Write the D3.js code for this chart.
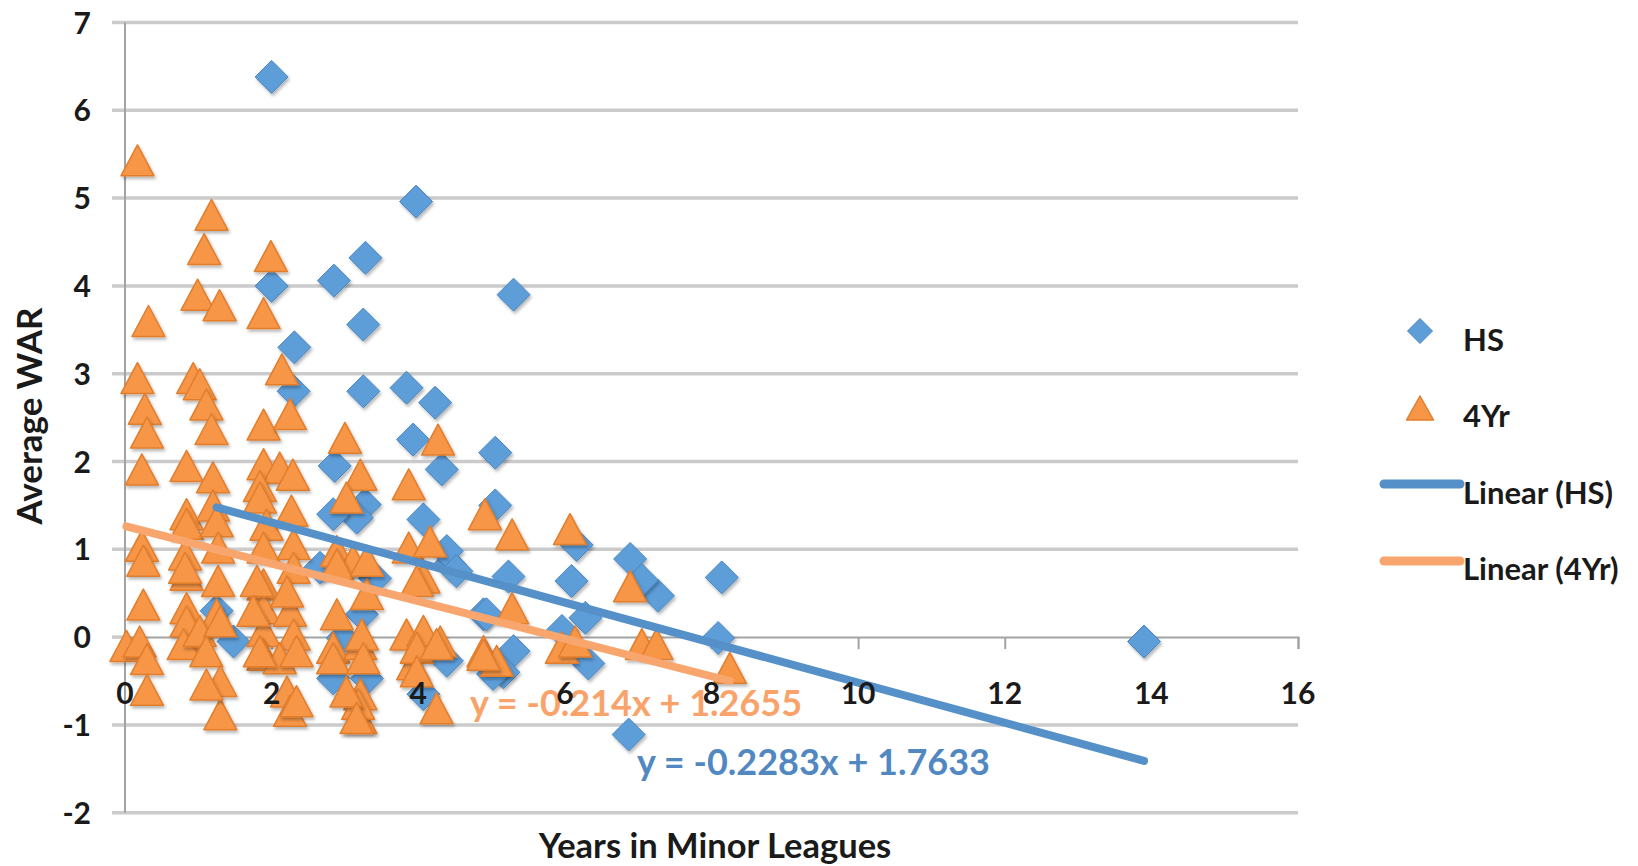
<!DOCTYPE html>
<html>
<head>
<meta charset="utf-8">
<script src="https://cdn.jsdelivr.net/npm/d3@7"></script>
<style>
  body { margin: 0; background: #ffffff; }
  svg { display: block; font-family: Lato, "Open Sans", sans-serif; }
</style>
</head>
<body>
<svg id="chart" width="1638" height="866"></svg>
<script>
// ---------------- DATA ----------------
const hsX = [1.25, 1.48, 2.0, 2.0, 2.85, 3.28, 3.97, 5.30, 3.25, 2.31,
             2.30, 3.25, 3.84, 4.23, 3.93, 4.32, 5.05, 2.86, 3.27, 3.16,
             2.84, 4.07, 5.05, 4.43, 4.39, 5.23, 6.16, 6.89, 6.09, 8.14,
             7.27, 7.05, 6.28, 5.96, 8.09, 6.32, 5.30, 5.16, 4.89, 6.87,
             13.9, 2.66, 3.41, 4.52, 3.23, 2.97, 2.84, 3.30, 4.07, 4.39,
             4.93, 5.02];
const hsY = [0.30, -0.05, 6.38, 4.00, 4.06, 4.32, 4.96, 3.90, 3.56, 3.30,
             2.80, 2.80, 2.84, 2.67, 2.25, 1.91, 2.10, 1.95, 1.51, 1.36,
             1.40, 1.34, 1.50, 0.83, 0.98, 0.69, 1.05, 0.89, 0.64, 0.68,
             0.47, 0.65, 0.22, 0.07, -0.01, -0.30, -0.16, -0.40, 0.26, -1.11,
             -0.05, 0.79, 0.67, 0.75, 0.26, -0.01, -0.47, -0.47, -0.65, -0.27,
             0.26, -0.42];

const yrX = [0.17, 0.32, 0.17, 0.27, 0.30, 0.23, 0.23, 0.25, 0.25, 0.02, 0.20, 0.30, 0.30,
             1.18, 1.08, 0.99, 1.29, 0.93, 1.02, 1.11, 1.18, 0.84, 1.20, 0.84, 0.84, 1.20, 1.25,
             0.82, 0.84, 1.27, 1.27, 0.84, 1.25, 0.93, 0.84, 0.80, 1.02, 1.30, 1.11, 1.30, 1.30,
             1.11, 0.82,
             1.99, 1.89, 2.14, 1.89, 2.25, 1.89, 2.11, 2.29, 1.84, 1.84, 1.93, 2.27, 1.89, 1.89,
             2.30, 2.30, 1.89, 2.25, 1.89, 2.30, 1.80, 1.75, 2.21, 1.89, 2.11, 2.21, 2.25, 2.34,
             2.34, 1.84,
             3.00, 3.21, 3.02, 2.89, 3.11, 3.30, 2.89, 2.84, 3.21, 2.84, 3.21, 3.21, 3.18, 3.23,
             3.25, 3.02, 2.89, 3.30, 3.16,
             3.87, 4.27, 3.87, 4.16, 4.07, 3.84, 4.07, 4.30, 3.93, 4.25, 3.98, 3.98, 3.98, 4.25,
             4.91, 5.28, 5.28, 4.89, 5.07, 4.89,
             6.07, 5.96, 6.14,
             6.89, 7.05, 7.25,
             8.25];
const yrY = [5.43, 3.60, 2.95, 2.60, 2.33, 1.91, 1.04, 0.87, 0.37, -0.10, -0.05, -0.25, -0.60,
             4.81, 4.42, 3.90, 3.78, 2.95, 2.88, 2.65, 2.37, 1.95, 1.82, 1.40, 1.29, 1.50, 1.32,
             0.94, 0.71, 1.02, 0.64, 0.33, 0.26, 0.03, 0.18, -0.08, 0.07, 0.18, -0.16, -0.50, -0.88,
             -0.54, 0.79,
             4.34, 3.69, 3.05, 2.42, 2.54, 1.97, 1.93, 1.85, 1.72, 1.59, 1.28, 1.44, 1.02, 0.60,
             1.06, 0.79, 0.33, 0.30, 0.07, 0.03, 0.64, 0.30, 0.52, -0.20, -0.24, -0.62, -0.84, -0.16,
             -0.73, -0.16,
             2.27, 1.85, 1.59, 0.98, 0.87, 0.49, 0.26, -0.12, -0.08, -0.24, -0.65, -0.92, -0.76, 0.03,
             -0.24, -0.62, 0.83, 0.87, -0.92,
             1.74, 2.25, 1.02, 1.09, 0.68, 0.03, 0.07, -0.05, -0.31, -0.81, -0.12, 0.64, -0.39, -0.08,
             1.40, 1.17, 0.33, -0.16, -0.27, -0.20,
             1.23, -0.12, -0.05,
             0.58, -0.08, -0.08,
             -0.35];

const trendSlopes = [-0.2283, -0.214];
const trendIntercepts = [1.7633, 1.2655];
const equationLabels = ["y = -0.2283x + 1.7633", "y = -0.214x + 1.2655"];
const legendLabels = ["HS", "4Yr", "Linear (HS)", "Linear (4Yr)"];
const xTicks = [0, 2, 4, 6, 8, 10, 12, 14, 16];
const yTicks = [-2, -1, 0, 1, 2, 3, 4, 5, 6, 7];
const xTitle = "Years in Minor Leagues";
const yTitle = "Average WAR";

// ---------------- STYLE ----------------
const C = {
  blue: "#5d9dd8", blueStroke: "#4a86c0",
  orange: "#f79646", orangeStroke: "#e27d2c",
  blueTrend: "#5590c8", orangeTrend: "#f9a66e",
  blueText: "#5188c2", orangeText: "#f9a36b",
  grid: "#cbcbcb", axis: "#a3a3a3", text: "#1a1a1a"
};

const svg = d3.select("#chart");
const x = d3.scaleLinear().domain([0, 16]).range([125, 1298]);
const y = d3.scaleLinear().domain([-2, 7]).range([812.7, 22.5]);

const defs = svg.append("defs");
const f = defs.append("filter").attr("id", "sh")
  .attr("x", "-40%").attr("y", "-40%").attr("width", "180%").attr("height", "180%");
f.append("feDropShadow").attr("dx", 1.5).attr("dy", 2.5).attr("stdDeviation", 1.8)
  .attr("flood-color", "#000").attr("flood-opacity", 0.28);

// gridlines
svg.append("g").selectAll("line")
  .data(yTicks.filter(t => t !== 0))
  .join("line")
  .attr("x1", 112).attr("x2", x(16))
  .attr("y1", d => y(d)).attr("y2", d => y(d))
  .attr("stroke", C.grid).attr("stroke-width", 3.5);

// y axis line
svg.append("line")
  .attr("x1", x(0)).attr("x2", x(0))
  .attr("y1", y(7)).attr("y2", y(-2))
  .attr("stroke", C.axis).attr("stroke-width", 2);
// zero stub left of axis
svg.append("line").attr("x1", 112).attr("x2", x(0))
  .attr("y1", y(0)).attr("y2", y(0))
  .attr("stroke", C.grid).attr("stroke-width", 3.5);

// x axis at y=0
const xAxisG = svg.append("g").attr("transform", `translate(0,${y(0)})`)
  .call(d3.axisBottom(x).tickValues(xTicks).tickSize(12).tickFormat(""));
xAxisG.select(".domain").attr("stroke", C.axis).attr("stroke-width", 2);
xAxisG.selectAll(".tick line").attr("stroke", C.axis).attr("stroke-width", 2);

// markers
const diamond = s => `M0,${-s}L${s},0L0,${s}L${-s},0Z`;
const tri = (w, h) => `M0,${-h / 2}L${w / 2},${h / 2}L${-w / 2},${h / 2}Z`;

svg.append("g").selectAll("path")
  .data(hsX.map((v, i) => [v, hsY[i]]))
  .join("path")
  .attr("d", diamond(16.5))
  .attr("transform", d => `translate(${x(d[0])},${y(d[1])})`)
  .attr("fill", C.blue).attr("stroke", C.blueStroke).attr("stroke-width", 1)
  .attr("filter", "url(#sh)");

svg.append("g").selectAll("path")
  .data(yrX.map((v, i) => [v, yrY[i]]))
  .join("path")
  .attr("d", tri(33, 31))
  .attr("transform", d => `translate(${x(d[0])},${y(d[1])})`)
  .attr("fill", C.orange).attr("stroke", C.orangeStroke).attr("stroke-width", 1.5)
  .attr("stroke-linejoin", "round")
  .attr("filter", "url(#sh)");

// trendlines
const ranges = [d3.extent(hsX), d3.extent(yrX)];
const trendColors = [C.blueTrend, C.orangeTrend];
const line = d3.line().x(d => x(d[0])).y(d => y(d[1]));
[1, 0].forEach(i => {
  const pts = ranges[i].map(v => [v, trendSlopes[i] * v + trendIntercepts[i]]);
  svg.append("path").attr("d", line(pts))
    .attr("fill", "none").attr("stroke", trendColors[i])
    .attr("stroke-width", 8).attr("stroke-linecap", "round");
});

// equation labels
svg.append("text").attr("x", 470).attr("y", 716)
  .attr("font-size", 36).attr("font-weight", 700).attr("fill", C.orangeText)
  .text(equationLabels[1]);
svg.append("text").attr("x", 637).attr("y", 775)
  .attr("font-size", 36).attr("font-weight", 700).attr("fill", C.blueText)
  .text(equationLabels[0]);

// x tick labels
svg.append("g").selectAll("text")
  .data(xTicks).join("text")
  .attr("x", d => x(d)).attr("y", 704)
  .attr("text-anchor", "middle")
  .attr("font-size", 30).attr("font-weight", 700).attr("fill", C.text)
  .text(d => d);

// y tick labels
svg.append("g").selectAll("text")
  .data(yTicks).join("text")
  .attr("x", 91).attr("y", d => y(d) + 11)
  .attr("text-anchor", "end")
  .attr("font-size", 30).attr("font-weight", 700).attr("fill", C.text)
  .text(d => d);

// axis titles
svg.append("text").attr("x", 715).attr("y", 858)
  .attr("text-anchor", "middle").attr("font-size", 34.5).attr("font-weight", 700)
  .attr("fill", C.text).text(xTitle);
svg.append("text").attr("transform", "translate(42,416) rotate(-90)")
  .attr("text-anchor", "middle").attr("font-size", 35).attr("font-weight", 700)
  .attr("fill", C.text).text(yTitle);

// legend
const lg = svg.append("g");
lg.append("path").attr("d", diamond(12.5)).attr("transform", "translate(1420,331)")
  .attr("fill", C.blue).attr("stroke", C.blueStroke).attr("stroke-width", 1);
lg.append("path").attr("d", tri(27, 24)).attr("transform", "translate(1420,408)")
  .attr("fill", C.orange).attr("stroke", C.orangeStroke).attr("stroke-width", 1.5)
  .attr("stroke-linejoin", "round");
lg.append("line").attr("x1", 1384).attr("x2", 1460).attr("y1", 484).attr("y2", 484)
  .attr("stroke", C.blueTrend).attr("stroke-width", 9).attr("stroke-linecap", "round");
lg.append("line").attr("x1", 1384).attr("x2", 1460).attr("y1", 561).attr("y2", 561)
  .attr("stroke", C.orangeTrend).attr("stroke-width", 9).attr("stroke-linecap", "round");
const legendY = [351, 427, 504, 580];
lg.selectAll("text").data(legendLabels).join("text")
  .attr("x", 1463).attr("y", (d, i) => legendY[i])
  .attr("font-size", 31).attr("font-weight", 700).attr("fill", C.text)
  .text(d => d);
</script>
</body>
</html>
